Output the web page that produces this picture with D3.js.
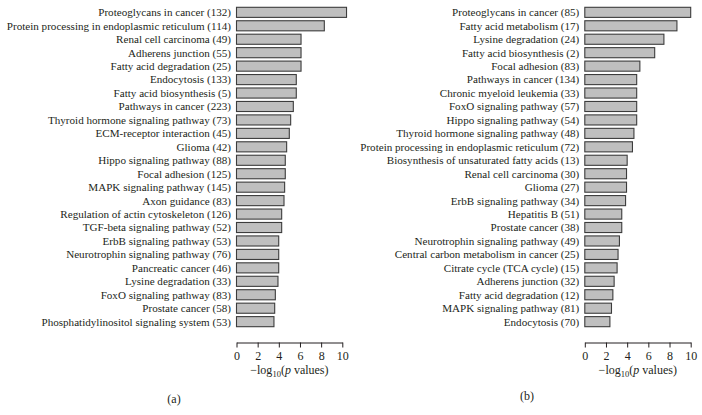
<!DOCTYPE html>
<html>
<head>
<meta charset="utf-8">
<script src="https://cdn.jsdelivr.net/npm/d3@7"></script>
<style>
  html, body { margin: 0; padding: 0; background: #fff; }
  svg { display: block; }
  text { font-family: "Liberation Serif", "DejaVu Serif", serif; fill: #231f20; }
</style>
</head>
<body>
<script>
const leftCategories = [
  "Proteoglycans in cancer (132)",
  "Protein processing in endoplasmic reticulum (114)",
  "Renal cell carcinoma (49)",
  "Adherens junction (55)",
  "Fatty acid degradation (25)",
  "Endocytosis (133)",
  "Fatty acid biosynthesis (5)",
  "Pathways in cancer (223)",
  "Thyroid hormone signaling pathway (73)",
  "ECM-receptor interaction (45)",
  "Glioma (42)",
  "Hippo signaling pathway (88)",
  "Focal adhesion (125)",
  "MAPK signaling pathway (145)",
  "Axon guidance (83)",
  "Regulation of actin cytoskeleton (126)",
  "TGF-beta signaling pathway (52)",
  "ErbB signaling pathway (53)",
  "Neurotrophin signaling pathway (76)",
  "Pancreatic cancer (46)",
  "Lysine degradation (33)",
  "FoxO signaling pathway (83)",
  "Prostate cancer (58)",
  "Phosphatidylinositol signaling system (53)"
];
const leftValues = [10.4, 8.3, 6.1, 6.1, 6.1, 5.65, 5.65, 5.37, 5.12, 4.99, 4.74, 4.61,
                    4.61, 4.55, 4.49, 4.27, 4.27, 3.99, 3.99, 3.99, 3.92, 3.67, 3.61, 3.54];

const rightCategories = [
  "Proteoglycans in cancer (85)",
  "Fatty acid metabolism (17)",
  "Lysine degradation (24)",
  "Fatty acid biosynthesis (2)",
  "Focal adhesion (83)",
  "Pathways in cancer (134)",
  "Chronic myeloid leukemia (33)",
  "FoxO signaling pathway (57)",
  "Hippo signaling pathway (54)",
  "Thyroid hormone signaling pathway (48)",
  "Protein processing in endoplasmic reticulum (72)",
  "Biosynthesis of unsaturated fatty acids (13)",
  "Renal cell carcinoma (30)",
  "Glioma (27)",
  "ErbB signaling pathway (34)",
  "Hepatitis B (51)",
  "Prostate cancer (38)",
  "Neurotrophin signaling pathway (49)",
  "Central carbon metabolism in cancer (25)",
  "Citrate cycle (TCA cycle) (15)",
  "Adherens junction (32)",
  "Fatty acid degradation (12)",
  "MAPK signaling pathway (81)",
  "Endocytosis (70)"
];
const rightValues = [10.0, 8.7, 7.47, 6.6, 5.2, 4.9, 4.9, 4.9, 4.9, 4.64, 4.5, 4.0,
                     3.94, 3.94, 3.85, 3.49, 3.49, 3.27, 3.14, 3.05, 2.77, 2.65, 2.52, 2.37];

const tickValues = [0, 2, 4, 6, 8, 10];
const panelLabels = ["(a)", "(b)"];

const W = 702, H = 415;
const svg = d3.select("body").append("svg").attr("width", W).attr("height", H);

function panel(cats, vals, x0, x1, labelPos) {
  const g = svg.append("g");
  const x = d3.scaleLinear().domain([0, 10]).range([x0, x1]);
  const y = d3.scaleBand().domain(cats).range([7.3, 326.7]).paddingInner(0.25).paddingOuter(0);

  g.selectAll("rect.bar").data(cats).join("rect")
    .attr("class", "bar")
    .attr("x", x(0))
    .attr("y", d => y(d))
    .attr("width", (d, i) => x(vals[i]) - x(0))
    .attr("height", y.bandwidth())
    .attr("fill", "#bfbfbf")
    .attr("stroke", "#3c3c3c")
    .attr("stroke-width", 1.1);

  g.selectAll("text.lab").data(cats).join("text")
    .attr("class", "lab")
    .attr("x", x(0) - 5.5)
    .attr("y", d => y(d) + y.bandwidth() / 2)
    .attr("dy", "0.35em")
    .attr("text-anchor", "end")
    .attr("font-size", 11.1)
    .text(d => d);

  const axis = d3.axisBottom(x).tickValues(tickValues).tickSize(5).tickSizeOuter(0).tickPadding(4);
  const ag = g.append("g").attr("transform", "translate(0,342.5)").call(axis);
  ag.select(".domain").attr("stroke", "#231f20");
  ag.selectAll(".tick line").attr("stroke", "#231f20");
  ag.selectAll(".tick text").attr("font-size", 12)
    .attr("font-family", "Liberation Serif, DejaVu Serif, serif").attr("fill", "#231f20");

  const t = g.append("text")
    .attr("x", (x0 + x1) / 2).attr("y", 374)
    .attr("text-anchor", "middle").attr("font-size", 12);
  t.append("tspan").text("\u2212log");
  t.append("tspan").attr("font-size", 8.5).attr("dy", 3).text("10");
  t.append("tspan").attr("dy", -3).text("(");
  t.append("tspan").attr("font-style", "italic").text("p");
  t.append("tspan").text(" values)");

  g.append("text").attr("x", labelPos[0]).attr("y", labelPos[1])
    .attr("text-anchor", "middle").attr("font-size", 12).text(labelPos[2]);
}

panel(leftCategories, leftValues, 236.5, 342.3, [174, 403, panelLabels[0]]);
panel(rightCategories, rightValues, 584.8, 690.7, [527, 400, panelLabels[1]]);
</script>
</body>
</html>
